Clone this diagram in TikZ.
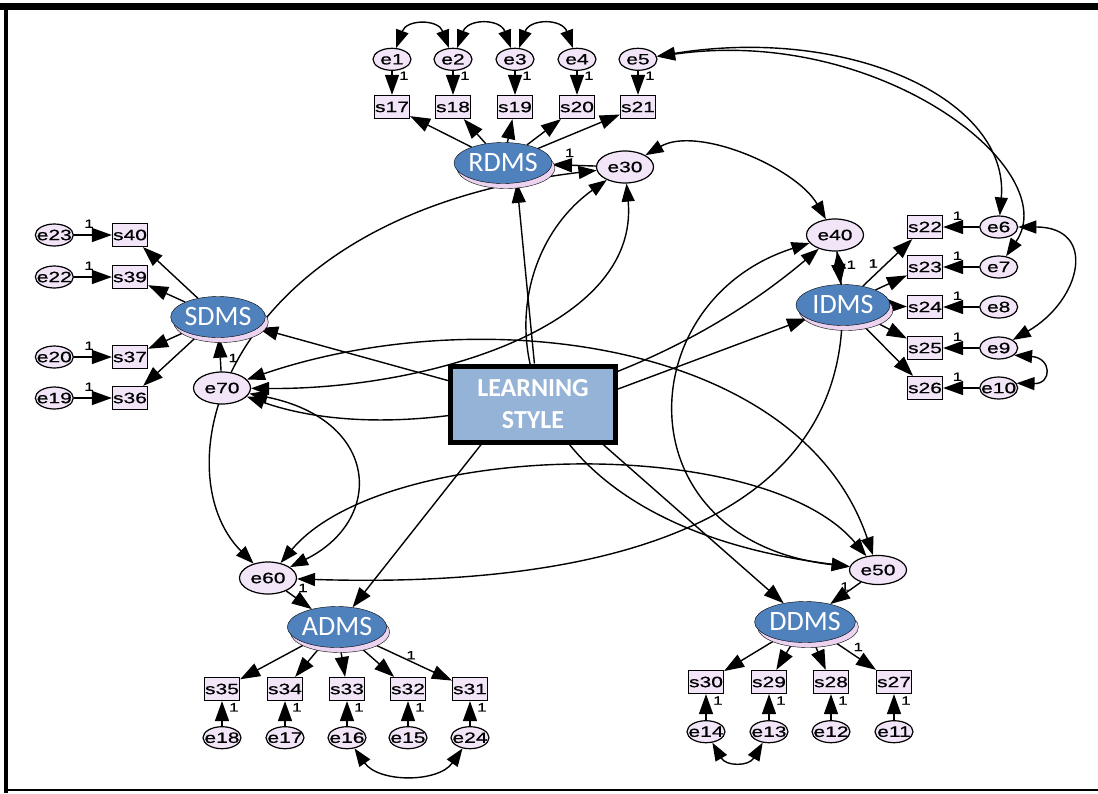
\documentclass[tikz,border=0pt]{standalone}
\usepackage{fontspec}
\setmainfont{Liberation Sans}
\newfontfamily\amosfont[FakeStretch=1.4,FakeBold=0.6]{Liberation Sans}
\newfontfamily\latfont{Carlito}
\usetikzlibrary{arrows.meta,positioning,shapes.geometric,backgrounds}
\definecolor{amosBlue}{RGB}{79,129,189}
\definecolor{amosSteel}{RGB}{149,179,215}
\definecolor{amosPink}{RGB}{241,229,247}
\definecolor{amosShade}{RGB}{236,212,240}
\tikzset{
  amostip/.tip={Triangle[length=20pt,width=14pt]},
  covtip/.tip={Triangle[length=18pt,width=13pt]}
}

\begin{document}
\begin{tikzpicture}[x=1pt, y=1pt,
  err/.style={ellipse, draw, line width=1.2pt, fill=amosPink, minimum width=38pt,
              minimum height=22pt, inner xsep=-5pt, inner ysep=0pt,
              font=\amosfont\fontsize{15}{15}\selectfont},
  dist/.style={err, minimum width=57pt, minimum height=32pt},
  obs/.style={rectangle, draw, line width=1.2pt, fill=amosPink, minimum width=35pt,
              minimum height=23pt, inner sep=0pt, font=\amosfont\fontsize{15}{15}\selectfont},
  lat/.style={ellipse, draw, fill=amosBlue, text=white, minimum width=94pt,
              minimum height=41pt, inner sep=0pt, font=\latfont\fontsize{28}{28}\selectfont,
              preaction={draw, fill=amosShade, transform canvas={shift={(3pt,-5pt)}}}},
  lsbox/.style={rectangle, draw, line width=5pt, fill=amosSteel, text=white,
              minimum width=165pt, minimum height=76pt, align=center,
              font=\latfont\bfseries\fontsize{26}{32}\selectfont},
  reg/.style={-amostip, line width=1.4pt},
  cov/.style={covtip-covtip, line width=1.4pt},
  one/.style={font=\amosfont\fontsize{12}{12}\selectfont, inner sep=1.5pt}
]
  \useasboundingbox (0,0) rectangle (1098,-793);
  \draw[line width=7pt] (0,-6.5) -- (1098,-6.5);
  \draw[line width=4pt] (6,-3) -- (6,-793);
  \draw[line width=2pt] (5,-790) -- (1098,-790);

  \node[lsbox] (LS) at (533,-404) {LEARNING\\STYLE};

  % RDMS block
  \node[lat]  (RDMS) at (503,-163) {RDMS};
  \node[dist] (e30)  at (625,-167) {e30};
  \node[obs] (s17) at (392,-107) {s17};
  \node[obs] (s18) at (453,-107) {s18};
  \node[obs] (s19) at (515,-107) {s19};
  \node[obs] (s20) at (577,-107) {s20};
  \node[obs] (s21) at (638,-107) {s21};
  \node[err, above=24pt of s17] (e1) {e1};
  \node[err, above=24pt of s18] (e2) {e2};
  \node[err, above=24pt of s19] (e3) {e3};
  \node[err, above=24pt of s20] (e4) {e4};
  \node[err, above=24pt of s21] (e5) {e5};

  % SDMS block
  \node[lat]  (SDMS) at (218,-317) {SDMS};
  \node[dist] (e70)  at (222,-388) {e70};
  \node[obs] (s40) at (130,-235) {s40};
  \node[obs] (s39) at (130,-277) {s39};
  \node[obs] (s37) at (130,-357) {s37};
  \node[obs] (s36) at (130,-398) {s36};
  \node[err, left=38pt of s40] (e23) {e23};
  \node[err, left=38pt of s39] (e22) {e22};
  \node[err, left=38pt of s37] (e20) {e20};
  \node[err, left=38pt of s36] (e19) {e19};

  % IDMS block
  \node[lat]  (IDMS) at (843,-305) {IDMS};
  \node[dist] (e40)  at (835,-235) {e40};
  \node[obs] (s22) at (925,-227) {s22};
  \node[obs] (s23) at (925,-267) {s23};
  \node[obs] (s24) at (925,-307) {s24};
  \node[obs] (s25) at (925,-348) {s25};
  \node[obs] (s26) at (925,-388) {s26};
  \node[err, right=36pt of s22] (e6) {e6};
  \node[err, right=36pt of s23] (e7) {e7};
  \node[err, right=36pt of s24] (e8) {e8};
  \node[err, right=36pt of s25] (e9) {e9};
  \node[err, right=36pt of s26] (e10) {e10};

  % ADMS block
  \node[lat]  (ADMS) at (337,-627) {ADMS};
  \node[dist] (e60)  at (268,-578) {e60};
  \node[obs] (s35) at (222,-689) {s35};
  \node[obs] (s34) at (285,-689) {s34};
  \node[obs] (s33) at (347,-689) {s33};
  \node[obs] (s32) at (408,-689) {s32};
  \node[obs] (s31) at (470,-689) {s31};
  \node[err, below=25pt of s35] (e18) {e18};
  \node[err, below=25pt of s34] (e17) {e17};
  \node[err, below=25pt of s33] (e16) {e16};
  \node[err, below=25pt of s32] (e15) {e15};
  \node[err, below=25pt of s31] (e24) {e24};

  % DDMS block
  \node[lat]  (DDMS) at (805,-622) {DDMS};
  \node[dist, minimum height=29pt] (e50) at (878,-570) {e50};
  \node[obs] (s30) at (706,-682) {s30};
  \node[obs] (s29) at (769,-682) {s29};
  \node[obs] (s28) at (831,-682) {s28};
  \node[obs] (s27) at (894,-682) {s27};
  \node[err, below=26pt of s30] (e14) {e14};
  \node[err, below=26pt of s29] (e13) {e13};
  \node[err, below=26pt of s28] (e12) {e12};
  \node[err, below=26pt of s27] (e11) {e11};

  \begin{scope}[on background layer]
    % structural paths
    \draw[reg] (LS.88) -- (RDMS.-55);
    \draw[reg] (LS) -- (SDMS);
    \draw[reg] (LS.10) -- (IDMS);
    \draw[reg] (LS.-142) -- (ADMS);
    \draw[reg] (LS.-30) -- (DDMS);
    \draw[reg] (e30) -- node[one, above=6pt, pos=.6]{1} (RDMS);
    \draw[reg] (e70) -- node[one, right=6pt, pos=.4]{1} (SDMS);
    \draw[reg] (e40) -- node[one, right=6pt, pos=.4]{1} (IDMS);
    \draw[reg] (e60) -- node[one, above right=3pt, pos=.3]{1} (ADMS);
    \draw[reg] (e50) -- node[one, left=3pt, pos=.2]{1} (DDMS);

    % loadings
    \draw[reg] (RDMS) -- (s17);
    \draw[reg] (RDMS) -- (s18);
    \draw[reg] (RDMS) -- (s19);
    \draw[reg] (RDMS) -- (s20);
    \draw[reg] (RDMS) -- (s21);
    \draw[reg] (SDMS) -- (s40);
    \draw[reg] (SDMS) -- (s39);
    \draw[reg] (SDMS) -- (s37);
    \draw[reg] (SDMS) -- (s36);
    \draw[reg] (IDMS) -- node[one, above left, pos=.35]{1} (s22);
    \draw[reg] (IDMS) -- (s23);
    \draw[reg] (IDMS) -- (s24);
    \draw[reg] (IDMS) -- (s25);
    \draw[reg] (IDMS) -- (s26);
    \draw[reg] (ADMS) -- (s35);
    \draw[reg] (ADMS) -- (s34);
    \draw[reg] (ADMS) -- (s33);
    \draw[reg] (ADMS) -- (s32);
    \draw[reg] (ADMS) -- node[one, above, pos=.5]{1} (s31);
    \draw[reg] (DDMS) -- (s30);
    \draw[reg] (DDMS) -- (s29);
    \draw[reg] (DDMS) -- (s28);
    \draw[reg] (DDMS) -- node[one, above right, pos=.45]{1} (s27);

    % measurement errors
    \draw[reg] (e1) -- node[one, right=5pt, pos=.2]{1} (s17);
    \draw[reg] (e2) -- node[one, right=5pt, pos=.2]{1} (s18);
    \draw[reg] (e3) -- node[one, right=5pt, pos=.2]{1} (s19);
    \draw[reg] (e4) -- node[one, right=5pt, pos=.2]{1} (s20);
    \draw[reg] (e5) -- node[one, right=5pt, pos=.2]{1} (s21);
    \draw[reg] (e23) -- node[one, above=5pt, pos=.4]{1} (s40);
    \draw[reg] (e22) -- node[one, above=5pt, pos=.4]{1} (s39);
    \draw[reg] (e20) -- node[one, above=5pt, pos=.4]{1} (s37);
    \draw[reg] (e19) -- node[one, above=5pt, pos=.4]{1} (s36);
    \draw[reg] (e6) -- node[one, above=5pt, pos=.6]{1} (s22);
    \draw[reg] (e7) -- node[one, above=5pt, pos=.6]{1} (s23);
    \draw[reg] (e8) -- node[one, above=5pt, pos=.6]{1} (s24);
    \draw[reg] (e9) -- node[one, above=5pt, pos=.6]{1} (s25);
    \draw[reg] (e10) -- node[one, above=5pt, pos=.6]{1} (s26);
    \draw[reg] (e18) -- node[one, right=5pt, pos=.75]{1} (s35);
    \draw[reg] (e17) -- node[one, right=5pt, pos=.75]{1} (s34);
    \draw[reg] (e16) -- node[one, right=5pt, pos=.75]{1} (s33);
    \draw[reg] (e15) -- node[one, right=5pt, pos=.75]{1} (s32);
    \draw[reg] (e24) -- node[one, right=5pt, pos=.75]{1} (s31);
    \draw[reg] (e14) -- node[one, right=5pt, pos=.75]{1} (s30);
    \draw[reg] (e13) -- node[one, right=5pt, pos=.75]{1} (s29);
    \draw[reg] (e12) -- node[one, right=5pt, pos=.75]{1} (s28);
    \draw[reg] (e11) -- node[one, right=5pt, pos=.75]{1} (s27);

    % error covariances
    \draw[cov] (e1.70) to[out=70,in=110,looseness=1.5] (e2.110);
    \draw[cov] (e2.70) to[out=70,in=110,looseness=1.5] (e3.110);
    \draw[cov] (e3.70) to[out=70,in=110,looseness=1.5] (e4.110);
    \draw[cov] (e5) .. controls (850,-25) and (1010,-100) .. (e6);
    \draw[cov] (e5) .. controls (880,-25) and (1065,-170) .. (e7);
    \draw[cov] (e6) to[out=0,in=30,looseness=1.8] (e9);
    \draw[cov] (e9.-25) .. controls (1052,-358) and (1052,-384) .. (e10.15);
    \draw[cov] (e16) to[out=-55,in=-125] (e24);
    \draw[cov] (e14) to[out=-60,in=-120,looseness=1.4] (e13);

    % disturbance covariances
    \draw[cov] (e30) to[out=30,in=120,looseness=0.8] (e40);
    \draw[cov] (e30) .. controls (640,-330) and (420,-390) .. (e70);
    \draw[cov] (e30) .. controls (220,-215) and (160,-470) .. (e60);
    \draw[cov] (e30) .. controls (480,-270) and (480,-520) .. (e50);
    \draw[cov] (e40) .. controls (630,-300) and (620,-540) .. (e50);
    \draw[cov] (e40) .. controls (870,-500) and (650,-590) .. (e60);
    \draw[cov] (e40) .. controls (640,-400) and (400,-450) .. (e70);
    \draw[cov] (e60) to[out=50,in=130,looseness=0.7] (e50);
    \draw[cov] (e70) .. controls (480,-300) and (800,-340) .. (e50);
    \draw[cov] (e70) .. controls (380,-420) and (385,-520) .. (e60);
  \end{scope}
\end{tikzpicture}
\end{document}
